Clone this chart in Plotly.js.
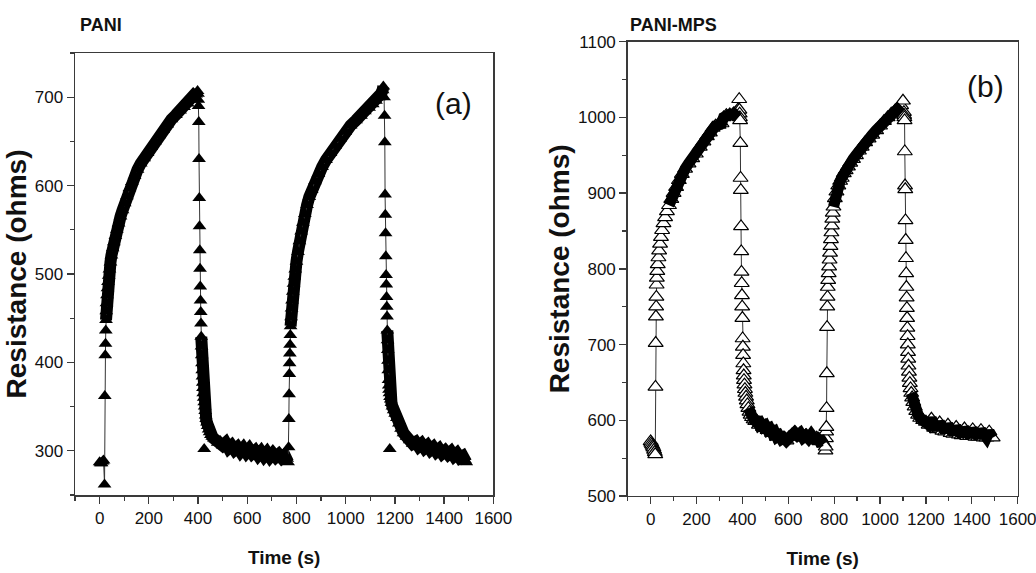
<!DOCTYPE html>
<html>
<head>
<meta charset="utf-8">
<script src="https://cdn.plot.ly/plotly-3.0.1.min.js"></script>
<style>html,body{margin:0;padding:0;background:#fff;}#chart{width:1036px;height:573px;}</style>
</head>
<body>
<div id="chart"></div>
<script>
// ---- Panel (a): PANI ----
const timeA = [0,4,8,12,16,20,21,23,24,25,26,
 27,28,30,32,34,37,40,44,48,53,58,64,70,77,85,93,102,111,121,131,142,154,167,181,195,210,225,241,258,275,292,310,327,343,358,372,383,392,398,
 400,401,402,403,404,405,406,407,408,409,410,411,412,413,414,415,416,417,418,419,420,421,423,425,427,429,431,433,436,439,443,447,452,458,464,
 470,480,490,500,512,524,536,548,560,572,584,596,608,620,632,644,656,668,680,692,704,716,728,740,752,762,766,
 768,769,770,771,772,773,774,775,776,778,780,782,785,788,791,795,800,806,812,819,826,834,843,852,862,875,889,904,920,938,957,977,998,1020,1042,1062,1078,1095,1110,1123,1135,1144,1150,1153,
 1156,1158,1159,1160,1161,1162,1163,1164,1165,1166,1167,1168,1169,1170,1171,1172,1173,1174,1175,1176,1178,1180,1183,1186,1190,1195,1201,1208,1216,1225,1235,1247,
 1260,1272,1284,1296,1308,1320,1332,1344,1356,1368,1380,1392,1404,1416,1428,1440,1452,1464,1476,1486,1490];
const resistanceA = [287,286,286,288,289,262,362,408,421,436,448,
 458,467,476,484,491,498,505,513,521,529,536,543,550,557,565,572,580,588,597,604,611,618,625,631,637,644,650,657,663,669,675,680,685,689,693,697,700,703,707,
 704,697,690,672,630,586,554,527,506,486,470,457,444,429,418,408,399,391,384,377,371,365,360,355,350,345,340,336,332,328,324,321,318,316,314,
 313,309,311,306,309,303,306,301,304,299,303,298,302,297,300,295,299,294,298,293,297,293,296,292,295,291,287,
 304,336,364,387,399,410,420,431,441,451,461,470,480,489,497,505,514,525,537,548,558,568,578,587,595,605,613,621,629,637,645,653,661,668,674,679,684,688,692,696,700,704,708,712,
 700,679,649,590,567,546,520,499,488,474,463,452,436,425,414,402,391,380,374,369,365,361,358,354,350,346,342,337,331,325,320,316,
 312,308,310,305,308,303,306,301,304,299,302,297,300,296,299,294,297,292,294,289,287];
const outlierTimeA = [425, 1179];
const outlierResA = [302, 302];

// ---- Panel (b): PANI-MPS ----
const timeB = [0,3,6,9,12,15,18,20,
 21,22,23,24,25,26,27,29,31,34,37,41,45,50,56,63,71,80,90,100,111,123,136,150,165,181,197,214,230,245,258,270,283,296,309,318,330,345,358,370,380,386,
 387,388,389,390,391,392,393,394,395,396,397,398,399,400,401,402,403,404,405,406,407,409,411,413,416,419,422,426,431,436,442,449,456,
 464,472,480,490,500,510,520,530,540,550,560,570,580,592,604,616,628,640,652,664,676,688,700,712,724,736,746,755,
 762,763,764,765,766,767,768,769,770,771,772,774,776,778,780,782,784,786,788,790,792,794,797,803,810,818,826,833,842,850,860,870,882,895,908,920,935,950,966,983,1000,1017,1033,1049,1065,1080,1092,1100,
 1104,1105,1106,1107,1108,1109,1110,1111,1112,1113,1114,1115,1116,1117,1118,1119,1120,1121,1122,1123,1124,1126,1128,1130,1133,1136,1140,1145,1151,1158,1166,1175,1188,1200,
 1212,1224,1236,1248,1260,1272,1284,1296,1308,1320,1332,1344,1356,1368,1380,1392,1404,1416,1428,1440,1452,1464,1476,1491];
const resistanceB = [572,570,568,566,564,561,558,555,
 644,702,737,750,763,779,788,797,806,815,824,833,842,851,860,868,876,884,892,900,908,917,925,932,939,946,952,961,968,975,980,986,989,990,992,1000,1003,1004,1003,1006,1010,1024,
 1010,1005,1000,996,966,920,904,856,823,796,781,765,750,735,708,697,686,675,666,659,653,647,641,636,631,626,621,616,611,607,604,601,599,
 599,594,596,591,593,587,589,583,585,578,580,575,577,573,578,581,584,580,583,577,580,576,581,576,577,572,573,569,
 560,565,576,585,591,616,662,723,750,763,776,785,794,803,812,821,830,839,848,857,866,874,882,893,902,910,916,920,926,930,935,940,945,950,956,961,967,972,977,983,989,995,1000,1005,1009,1013,1016,1022,
 1007,1003,1000,996,955,910,905,864,838,814,794,776,762,748,735,722,711,700,690,681,672,664,656,649,642,636,630,624,618,612,607,603,600,598,
 594,602,590,588,597,586,585,594,583,582,591,581,580,589,579,579,588,578,578,587,577,577,585,577];

// time windows in which the recorded points are packed so tightly that they merge into a solid band
const denseWindowsA = [[26, 399], [413, 766], [776, 1153], [1169, 1490]];
const denseWindowsB = [[80, 380], [425, 755], [797, 1092], [1136, 1491]];

const panelTitles = ['PANI', 'PANI-MPS'];
const panelLabels = ['(a)', '(b)'];
const xTitle = 'Time (s)';
const yTitle = 'Resistance (ohms)';

function bandOf(t, v, windows) {
  const x = [], y = [];
  windows.forEach(function (w, k) {
    if (k > 0) { x.push(null); y.push(null); }
    for (let i = 0; i < t.length; i++) {
      if (t[i] >= w[0] && t[i] <= w[1]) { x.push(t[i]); y.push(v[i]); }
    }
  });
  return {x: x, y: y};
}
const bandA = bandOf(timeA, resistanceA, denseWindowsA);
const bandB = bandOf(timeB, resistanceB, denseWindowsB);

const AX = '#3a3a3a';
const SANS = '"Liberation Sans", Arial, Helvetica, sans-serif';
const tickFont = {family: SANS, size: 17, color: '#111'};
const xTitleFont = {family: SANS, size: 19, color: '#111', weight: 'bold'};
const yTitleFont = {family: SANS, size: 28, color: '#111', weight: 'bold'};

function xAxis(domain, anchor, standoff) {
  return {
    domain: domain, anchor: anchor, range: [-100, 1600], tick0: 0, dtick: 200,
    ticks: 'outside', ticklen: 7, tickwidth: 1.3, tickcolor: AX,
    minor: {dtick: 100, ticks: 'outside', ticklen: 4, tickwidth: 1.2, tickcolor: AX, showgrid: false},
    showline: true, linecolor: AX, linewidth: 1.5, mirror: true,
    showgrid: false, zeroline: false, tickfont: tickFont, ticklabeloverflow: 'allow',
    title: {text: xTitle, font: xTitleFont, standoff: standoff}
  };
}
function yAxis(domain, anchor, range, standoff) {
  return {
    domain: domain, anchor: anchor, range: range, tick0: 0, dtick: 100,
    ticks: 'outside', ticklen: 7, tickwidth: 1.3, tickcolor: AX,
    minor: {dtick: 50, ticks: 'outside', ticklen: 4, tickwidth: 1.2, tickcolor: AX, showgrid: false},
    showline: true, linecolor: AX, linewidth: 1.5, mirror: true,
    showgrid: false, zeroline: false, tickfont: tickFont, ticklabeloverflow: 'allow',
    title: {text: yTitle, font: yTitleFont, standoff: standoff}
  };
}

const traces = [
  {x: bandA.x, y: bandA.y, xaxis: 'x', yaxis: 'y', type: 'scatter', mode: 'lines', name: 'PANI dense',
   connectgaps: false, hoverinfo: 'skip', line: {color: '#000', width: 12}},
  {x: timeA, y: resistanceA, xaxis: 'x', yaxis: 'y', type: 'scatter', mode: 'lines+markers', name: 'PANI',
   line: {color: '#333', width: 1},
   marker: {symbol: 'triangle-up', size: 12, color: '#000', line: {width: 0}}},
  {x: outlierTimeA, y: outlierResA, xaxis: 'x', yaxis: 'y', type: 'scatter', mode: 'markers', name: 'PANI outliers',
   marker: {symbol: 'triangle-up', size: 12, color: '#000', line: {width: 0}}},
  {x: timeB, y: resistanceB, xaxis: 'x2', yaxis: 'y2', type: 'scatter', mode: 'lines+markers', name: 'PANI-MPS',
   line: {color: '#333', width: 1},
   marker: {symbol: 'triangle-up', size: 13, color: '#fff', line: {color: '#000', width: 1.2}}},
  {x: bandB.x, y: bandB.y, xaxis: 'x2', yaxis: 'y2', type: 'scatter', mode: 'lines', name: 'PANI-MPS dense',
   connectgaps: false, hoverinfo: 'skip', line: {color: '#000', width: 11}}
];

const layout = {
  width: 1036, height: 573,
  margin: {l: 0, r: 0, t: 0, b: 0},
  paper_bgcolor: '#fff', plot_bgcolor: '#fff',
  showlegend: false,
  xaxis: xAxis([0.0724, 0.4762], 'y', 24),
  yaxis: yAxis([0.1361, 0.9075], 'x', [250, 750], 0),
  xaxis2: xAxis([0.6059, 0.9823], 'y2', 24),
  yaxis2: yAxis([0.1344, 0.9272], 'x2', [500, 1100], 0),
  annotations: [
    {text: panelTitles[0], xref: 'paper', yref: 'paper', x: 0.0753, y: 0.9564, xanchor: 'left', yanchor: 'middle', showarrow: false,
     font: {family: SANS, size: 18, color: '#111', weight: 'bold'}},
    {text: panelTitles[1], xref: 'paper', yref: 'paper', x: 0.6062, y: 0.9564, xanchor: 'left', yanchor: 'middle', showarrow: false,
     font: {family: SANS, size: 18, color: '#111', weight: 'bold'}},
    {text: panelLabels[0], xref: 'paper', yref: 'paper', x: 0.4382, y: 0.8202, xanchor: 'center', yanchor: 'middle', showarrow: false,
     font: {family: SANS, size: 30, color: '#111'}},
    {text: panelLabels[1], xref: 'paper', yref: 'paper', x: 0.9517, y: 0.8482, xanchor: 'center', yanchor: 'middle', showarrow: false,
     font: {family: SANS, size: 30, color: '#111'}}
  ]
};

Plotly.newPlot('chart', traces, layout, {displayModeBar: false, staticPlot: true});
</script>
</body>
</html>
